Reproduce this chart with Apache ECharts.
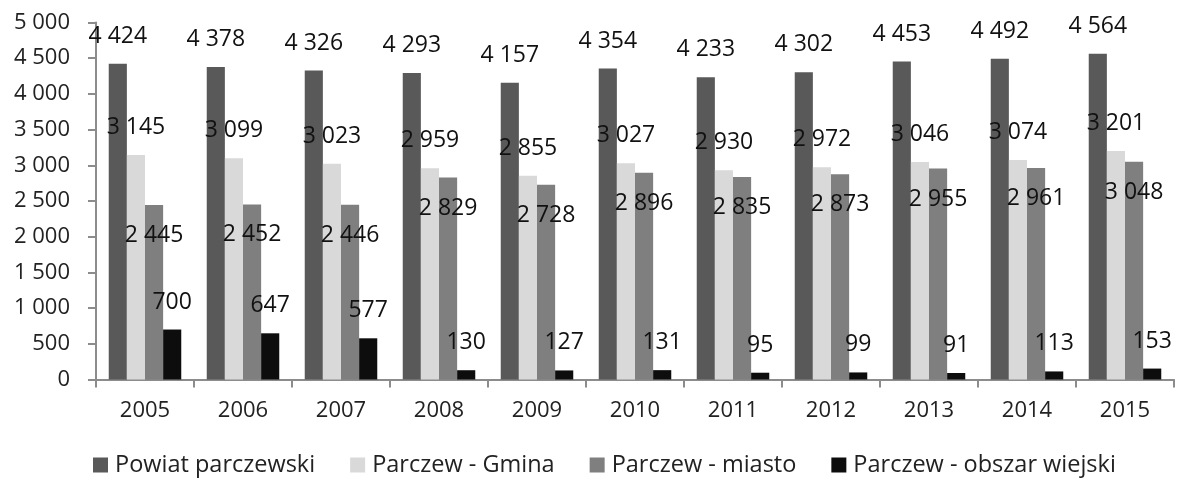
<!DOCTYPE html>
<html>
<head>
<meta charset="utf-8">
<script src="https://cdn.jsdelivr.net/npm/echarts@6/dist/echarts.min.js"></script>
<style>html,body{margin:0;padding:0;background:#fff;}#c{width:1177px;height:482px;}</style>
</head>
<body>
<div id="c"></div>
<script>
const categories = ['2005','2006','2007','2008','2009','2010','2011','2012','2013','2014','2015'];
const seriesNames = ['Powiat parczewski','Parczew - Gmina','Parczew - miasto','Parczew - obszar wiejski'];
const powiat = [4424,4378,4326,4293,4157,4354,4233,4302,4453,4492,4564];
const gmina = [3145,3099,3023,2959,2855,3027,2930,2972,3046,3074,3201];
const miasto = [2445,2452,2446,2829,2728,2896,2835,2873,2955,2961,3048];
const wiejski = [700,647,577,130,127,131,95,99,91,113,153];
const yTicks = [0,500,1000,1500,2000,2500,3000,3500,4000,4500,5000];

const FONT = 'Open Sans';
const fmt = v => String(v).replace(/\B(?=(\d{3})+(?!\d))/g, ' ');
const colors = ['#595959','#d9d9d9','#7f7f7f','#0d0d0d'];
const dataSets = [powiat, gmina, miasto, wiejski];

const chart = echarts.init(document.getElementById('c'), null, {renderer:'canvas'});
chart.setOption({
  animation:false,
  textStyle:{fontFamily:FONT},
  grid:{left:96,right:3,top:22.5,bottom:102.5,containLabel:false},
  legend:{
    bottom:0,left:88,icon:'rect',itemWidth:15,itemHeight:15,itemGap:35,
    textStyle:{fontFamily:FONT,fontSize:23.5,color:'#222',padding:[0,0,0,2]},
    data:seriesNames
  },
  xAxis:{
    type:'category',data:categories,boundaryGap:true,
    axisLine:{lineStyle:{color:'#8c8c8c',width:2}},
    axisTick:{show:true,alignWithLabel:false,length:8,lineStyle:{color:'#8c8c8c',width:2}},
    axisLabel:{margin:20,fontFamily:FONT,fontSize:22,color:'#222'},
    splitLine:{show:false}
  },
  yAxis:{
    type:'value',min:yTicks[0],max:yTicks[yTicks.length-1],interval:500,
    axisLine:{show:true,lineStyle:{color:'#8c8c8c',width:2}},
    axisTick:{show:true,length:8,lineStyle:{color:'#8c8c8c',width:2}},
    axisLabel:{margin:26,fontFamily:FONT,fontSize:22,color:'#222',formatter:v=>fmt(v)},
    splitLine:{show:false}
  },
  series: dataSets.map((d,i)=>({
    name:seriesNames[i],type:'bar',data:d,
    barGap:'0%',barCategoryGap:'26%',
    itemStyle:{color:colors[i]},
    label:{
      show:true,
      position: i===2 ? 'insideTop' : 'top',
      distance: i===2 ? 19 : 16,
      fontFamily:FONT,fontSize:23,color:'#111',
      formatter:p=>fmt(p.value)
    }
  }))
});
</script>
</body>
</html>
